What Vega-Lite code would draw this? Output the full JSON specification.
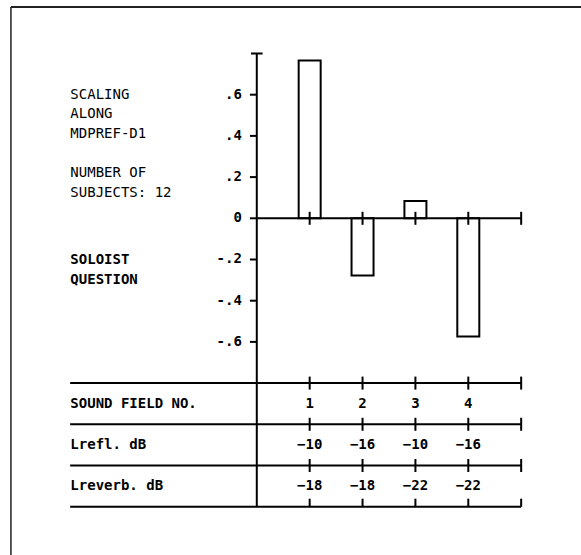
{
  "$schema": "https://vega.github.io/schema/vega-lite/v6.json",
  "width": 581,
  "height": 555,
  "autosize": "none",
  "padding": 0,
  "background": "white",
  "config": {"view": {"stroke": null}, "axis": {"disable": true}},
  "data": {"values": [{}]},
  "datasets": {
    "fields": [
      {"field": 1, "value": 0.766, "lrefl": -10, "lreverb": -18},
      {"field": 2, "value": -0.278, "lrefl": -16, "lreverb": -18},
      {"field": 3, "value": 0.084, "lrefl": -10, "lreverb": -22},
      {"field": 4, "value": -0.574, "lrefl": -16, "lreverb": -22}
    ],
    "yticks": [
      {"v": 0.6, "label": ".6"},
      {"v": 0.4, "label": ".4"},
      {"v": 0.2, "label": ".2"},
      {"v": 0, "label": "0"},
      {"v": -0.2, "label": "-.2"},
      {"v": -0.4, "label": "-.4"},
      {"v": -0.6, "label": "-.6"}
    ],
    "xticks": [{"x": 1}, {"x": 2}, {"x": 3}, {"x": 4}, {"x": 5}],
    "tablelines": [{"y": -0.8}, {"y": -1.0}, {"y": -1.2}, {"y": -1.4}]
  },
  "layer": [
    {
      "mark": {"type": "rule", "stroke": "#222", "strokeWidth": 2},
      "encoding": {
        "x": {"datum": -4.65, "type": "quantitative", "scale": {"domain": [-4.762, 6.037], "nice": false, "zero": false}},
        "x2": {"datum": 6.2},
        "y": {"datum": 1.0257, "type": "quantitative", "scale": {"domain": [-1.6345, 1.0597], "nice": false, "zero": false}}
      }
    },
    {
      "mark": {"type": "rule", "stroke": "#222", "strokeWidth": 1.5},
      "encoding": {
        "x": {"datum": -4.65, "type": "quantitative"},
        "y": {"datum": 1.0257, "type": "quantitative"},
        "y2": {"datum": -1.7}
      }
    },
    {
      "data": {"name": "fields"},
      "mark": {"type": "bar", "fill": "white", "stroke": "black", "strokeWidth": 2, "width": 22},
      "encoding": {
        "x": {"field": "field", "type": "quantitative"},
        "y": {"field": "value", "type": "quantitative"},
        "y2": {"datum": 0}
      }
    },
    {
      "mark": {"type": "rule", "stroke": "black", "strokeWidth": 2},
      "encoding": {
        "x": {"datum": 0, "type": "quantitative"},
        "y": {"datum": 0.8, "type": "quantitative"},
        "y2": {"datum": -1.4}
      }
    },
    {
      "mark": {"type": "rule", "stroke": "black", "strokeWidth": 2},
      "encoding": {
        "x": {"datum": -0.11, "type": "quantitative"},
        "x2": {"datum": 0.11},
        "y": {"datum": 0.8, "type": "quantitative"}
      }
    },
    {
      "mark": {"type": "rule", "stroke": "black", "strokeWidth": 2},
      "encoding": {
        "x": {"datum": 0, "type": "quantitative"},
        "x2": {"datum": 5},
        "y": {"datum": 0, "type": "quantitative"}
      }
    },
    {
      "data": {"name": "tablelines"},
      "mark": {"type": "rule", "stroke": "black", "strokeWidth": 2},
      "encoding": {
        "x": {"datum": -3.53, "type": "quantitative"},
        "x2": {"datum": 5},
        "y": {"field": "y", "type": "quantitative"}
      }
    },
    {
      "data": {"name": "yticks"},
      "mark": {"type": "rule", "stroke": "black", "strokeWidth": 2},
      "encoding": {
        "x": {"datum": -0.13, "type": "quantitative"},
        "x2": {"datum": 0},
        "y": {"field": "v", "type": "quantitative"}
      }
    },
    {
      "data": {"name": "yticks"},
      "mark": {"type": "text", "align": "right", "baseline": "middle", "font": "DejaVu Sans Mono", "fontWeight": "bold", "fontSize": 14, "color": "black"},
      "encoding": {
        "x": {"datum": -0.282, "type": "quantitative"},
        "y": {"field": "v", "type": "quantitative"},
        "text": {"field": "label"}
      }
    },
    {
      "data": {"name": "xticks"},
      "mark": {"type": "tick", "orient": "vertical", "size": 13, "thickness": 2, "color": "black", "opacity": 1},
      "encoding": {"x": {"field": "x", "type": "quantitative"}, "y": {"datum": 0, "type": "quantitative"}}
    },
    {
      "data": {"name": "xticks"},
      "mark": {"type": "tick", "orient": "vertical", "size": 13, "thickness": 2, "color": "black", "opacity": 1},
      "encoding": {"x": {"field": "x", "type": "quantitative"}, "y": {"datum": -0.8, "type": "quantitative"}}
    },
    {
      "data": {"name": "xticks"},
      "mark": {"type": "tick", "orient": "vertical", "size": 13, "thickness": 2, "color": "black", "opacity": 1},
      "encoding": {"x": {"field": "x", "type": "quantitative"}, "y": {"datum": -1.0, "type": "quantitative"}}
    },
    {
      "data": {"name": "xticks"},
      "mark": {"type": "tick", "orient": "vertical", "size": 13, "thickness": 2, "color": "black", "opacity": 1},
      "encoding": {"x": {"field": "x", "type": "quantitative"}, "y": {"datum": -1.2, "type": "quantitative"}}
    },
    {
      "data": {"name": "xticks"},
      "mark": {"type": "tick", "orient": "vertical", "size": 8, "thickness": 2, "color": "black", "opacity": 1, "yOffset": -4},
      "encoding": {"x": {"field": "x", "type": "quantitative"}, "y": {"datum": -1.4, "type": "quantitative"}}
    },
    {
      "mark": {"type": "text", "align": "left", "baseline": "alphabetic", "font": "DejaVu Sans Mono", "fontSize": 14, "lineHeight": 19.6, "color": "black",
        "text": ["SCALING", "ALONG", "MDPREF-D1"]},
      "encoding": {"x": {"datum": -3.526, "type": "quantitative"}, "y": {"datum": 0.5806, "type": "quantitative"}}
    },
    {
      "mark": {"type": "text", "align": "left", "baseline": "alphabetic", "font": "DejaVu Sans Mono", "fontSize": 14, "lineHeight": 19.6, "color": "black",
        "text": ["NUMBER OF", "SUBJECTS: 12"]},
      "encoding": {"x": {"datum": -3.526, "type": "quantitative"}, "y": {"datum": 0.2, "type": "quantitative"}}
    },
    {
      "mark": {"type": "text", "align": "left", "baseline": "alphabetic", "font": "DejaVu Sans Mono", "fontWeight": "bold", "fontSize": 14, "lineHeight": 19.6, "color": "black",
        "text": ["SOLOIST", "QUESTION"]},
      "encoding": {"x": {"datum": -3.526, "type": "quantitative"}, "y": {"datum": -0.2218, "type": "quantitative"}}
    },
    {
      "mark": {"type": "text", "align": "left", "baseline": "middle", "font": "DejaVu Sans Mono", "fontWeight": "bold", "fontSize": 14, "color": "black", "text": "SOUND FIELD NO."},
      "encoding": {"x": {"datum": -3.526, "type": "quantitative"}, "y": {"datum": -0.9, "type": "quantitative"}}
    },
    {
      "mark": {"type": "text", "align": "left", "baseline": "middle", "font": "DejaVu Sans Mono", "fontWeight": "bold", "fontSize": 14, "color": "black", "text": "Lrefl. dB"},
      "encoding": {"x": {"datum": -3.526, "type": "quantitative"}, "y": {"datum": -1.1, "type": "quantitative"}}
    },
    {
      "mark": {"type": "text", "align": "left", "baseline": "middle", "font": "DejaVu Sans Mono", "fontWeight": "bold", "fontSize": 14, "color": "black", "text": "Lreverb. dB"},
      "encoding": {"x": {"datum": -3.526, "type": "quantitative"}, "y": {"datum": -1.3, "type": "quantitative"}}
    },
    {
      "data": {"name": "fields"},
      "mark": {"type": "text", "align": "center", "baseline": "middle", "font": "DejaVu Sans Mono", "fontWeight": "bold", "fontSize": 14, "color": "black"},
      "encoding": {"x": {"field": "field", "type": "quantitative"}, "y": {"datum": -0.9, "type": "quantitative"}, "text": {"field": "field", "type": "quantitative", "format": "d"}}
    },
    {
      "data": {"name": "fields"},
      "mark": {"type": "text", "align": "center", "baseline": "middle", "font": "DejaVu Sans Mono", "fontWeight": "bold", "fontSize": 14, "color": "black"},
      "encoding": {"x": {"field": "field", "type": "quantitative"}, "y": {"datum": -1.1, "type": "quantitative"}, "text": {"field": "lrefl", "type": "quantitative", "format": "d"}}
    },
    {
      "data": {"name": "fields"},
      "mark": {"type": "text", "align": "center", "baseline": "middle", "font": "DejaVu Sans Mono", "fontWeight": "bold", "fontSize": 14, "color": "black"},
      "encoding": {"x": {"field": "field", "type": "quantitative"}, "y": {"datum": -1.3, "type": "quantitative"}, "text": {"field": "lreverb", "type": "quantitative", "format": "d"}}
    }
  ]
}
